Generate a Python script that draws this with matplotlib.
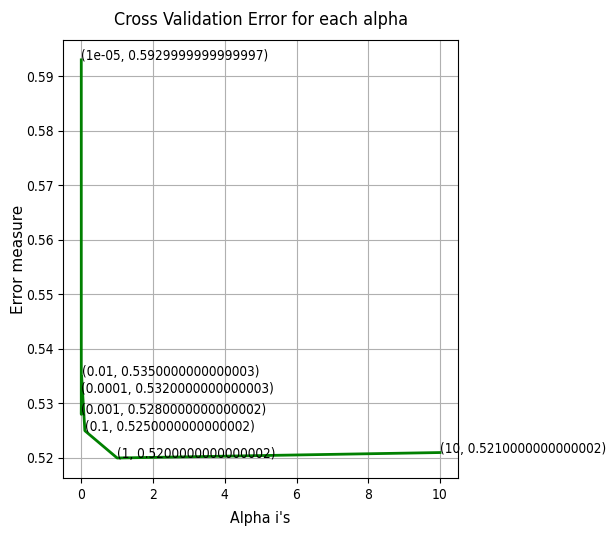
import matplotlib
matplotlib.use("Agg")
import matplotlib.pyplot as plt
from matplotlib import font_manager

alpha = [1e-05, 0.0001, 0.001, 0.01, 0.1, 1, 10]
cv_log_error_array = [0.5929999999999997, 0.5320000000000003, 0.5280000000000002,
                      0.5350000000000003, 0.5250000000000002, 0.5200000000000002,
                      0.5210000000000002]

# 幅の狭いフォントがあれば使う
stretch_val = {'ultra-condensed': 100, 'extra-condensed': 200, 'condensed': 300,
               'semi-condensed': 400, 'normal': 500}
def sval(s):
    if isinstance(s, str):
        return stretch_val.get(s, 500)
    return s

cands = [f for f in font_manager.fontManager.ttflist
         if f.style == 'normal' and f.weight in (400, 'normal', 'regular')
         and sval(f.stretch) < 500 and f.fname.lower().endswith(('.ttf', '.otf'))
         and 'serif' not in f.name.lower() and 'mono' not in f.name.lower()]
cands.sort(key=lambda f: sval(f.stretch))
if cands:
    fp = font_manager.FontProperties(fname=cands[0].fname)
else:
    fp = font_manager.FontProperties(family='DejaVu Sans')

fig, ax = plt.subplots(figsize=(6.09, 5.4), dpi=100)
fig.subplots_adjust(left=0.104, right=0.752, top=0.926, bottom=0.115)
renderer = fig.canvas.get_renderer()

def fit_size(s, width_px):
    # 参照画像の文字幅に合わせてフォントサイズを決める
    t = fig.text(0, 0, s, fontproperties=fp, fontsize=10)
    w = t.get_window_extent(renderer).width
    t.remove()
    return 10 * width_px / w

# 参照画像は縦に引き伸ばされているので、幅より少し大きめにする
s_tick = fit_size("0.59", 23) * 1.2
s_ann = fit_size("(1, 0.5200000000000002)", 158) * 1.02
s_title = fit_size("Cross Validation Error for each alpha", 262) * 1.12
s_xl = fit_size("Alpha i's", 50) * 1.2

ax.plot(alpha, cv_log_error_array, c='g', lw=2)
for i, txt in enumerate(cv_log_error_array):
    ax.annotate((alpha[i], cv_log_error_array[i]), (alpha[i], cv_log_error_array[i]),
                fontproperties=fp, fontsize=s_ann)

ax.grid()
ax.set_title("Cross Validation Error for each alpha", fontproperties=fp,
             fontsize=s_title, pad=11)
ax.set_xlabel("Alpha i's", fontproperties=fp, fontsize=s_xl, labelpad=7)
ax.set_ylabel("Error measure", fontsize=11, family='DejaVu Sans', labelpad=0)
for lab in ax.get_xticklabels() + ax.get_yticklabels():
    lab.set_fontproperties(fp)
    lab.set_fontsize(s_tick)

fig.savefig("out.png", dpi=100)
